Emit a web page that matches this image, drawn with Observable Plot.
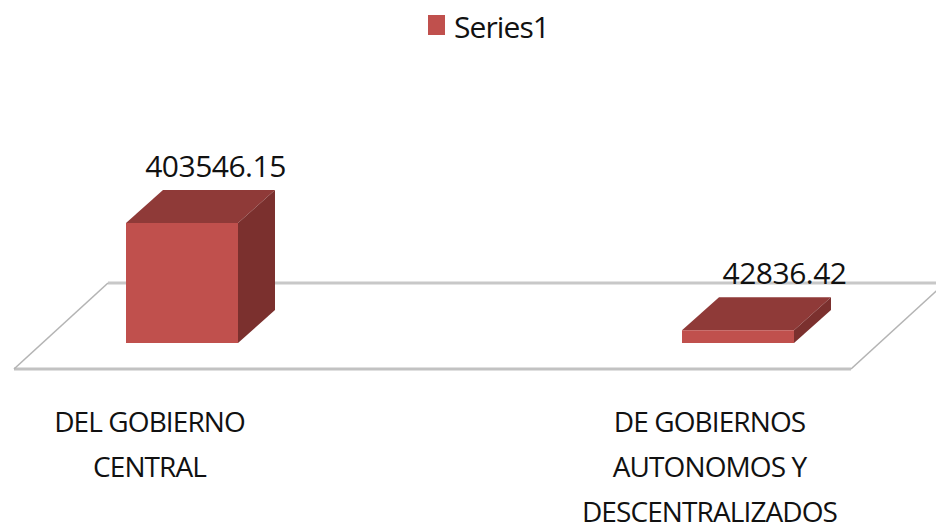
<!DOCTYPE html>
<html>
<head>
<meta charset="utf-8">
<script src="https://cdn.jsdelivr.net/npm/d3@7"></script>
<script src="https://cdn.jsdelivr.net/npm/@observablehq/plot@0.6"></script>
<style>
html,body{margin:0;padding:0;background:#fff;overflow:hidden}
#legend{height:50px;box-sizing:border-box;padding:15px 0 0 428px;display:flex;align-items:flex-start;font:30px "Open Sans",sans-serif;letter-spacing:-.9px;color:#111}
#legend i{display:block;width:17px;height:20px;background:#c0504d;margin-right:9px}
#legend span{line-height:24px}
svg{display:block}
.val{letter-spacing:-.5px}
.cat{letter-spacing:-.9px}
</style>
</head>
<body>
<div id="legend"><i></i><span id="series"></span></div>
<div id="chart"></div>
<script>
const seriesName = "Series1";
const categories = ["DEL GOBIERNO\nCENTRAL", "DE GOBIERNOS\nAUTONOMOS Y\nDESCENTRALIZADOS"];
const values = [403546.15, 42836.42];
const valueLabels = ["403546.15", "42836.42"];

document.getElementById("series").textContent = seriesName;
const rows = categories.map((category, i) => ({category, value: values[i], label: valueLabels[i]}));

const H = 476, OFF = 50;
const depth = {dx: 37, dy: -33};
const floor = {x0: 14, x1: 851, yFront: 369 - OFF, dx: 94, dy: -86};

function faces(color, which) {
  return (index, scales) => {
    const g = d3.create("svg:g");
    const bw = scales.x.bandwidth();
    for (const i of index) {
      const d = rows[i];
      const x0 = scales.x(d.category), x1 = x0 + bw;
      const yt = scales.y(d.value), yb = scales.y(0);
      const pts = which === "top"
        ? [[x0, yt], [x1, yt], [x1 + depth.dx, yt + depth.dy], [x0 + depth.dx, yt + depth.dy]]
        : [[x1, yt], [x1 + depth.dx, yt + depth.dy], [x1 + depth.dx, yb + depth.dy], [x1, yb]];
      g.append("polygon").attr("points", pts.join(" ")).attr("fill", color);
    }
    return g.node();
  };
}
function floorMark() {
  return () => {
    const g = d3.create("svg:g");
    const {x0, x1, yFront, dx, dy} = floor;
    const line = (a, b, c, e, w, col) => g.append("line")
      .attr("x1", a).attr("y1", b).attr("x2", c).attr("y2", e)
      .attr("stroke", col).attr("stroke-width", w);
    line(x0, yFront, x1, yFront, 3, "#c2c2c2");
    line(x0 + dx, yFront + dy, x1 + dx, yFront + dy, 3, "#c8c8c8");
    line(x0, yFront, x0 + dx, yFront + dy, 1.6, "#b4b4b4");
    line(x1, yFront, x1 + dx, yFront + dy, 1.6, "#b4b4b4");
    return g.node();
  };
}

const catText = {x: "category", y: () => 0, text: "category", dy: 57, lineAnchor: "top", lineHeight: 1.6, fontSize: 28, fill: "#111", textAnchor: "middle", className: "cat"};

const plot = Plot.plot({
  width: 936, height: H,
  margin: 0,
  style: {background: "transparent", fontFamily: '"Open Sans", sans-serif', overflow: "hidden"},
  x: {type: "band", domain: categories, range: [41, 878], paddingInner: 0.799, paddingOuter: 0.151, align: 0.5, axis: null},
  y: {domain: [0, 403546.15], range: [343 - OFF, 223 - OFF], axis: null},
  marks: [
    Plot.barY(rows.slice(0, 1), {x: "category", y: "value", render: floorMark()}),
    Plot.barY(rows, {x: "category", y: "value", render: faces("#8f3a38", "top")}),
    Plot.barY(rows, {x: "category", y: "value", render: faces("#7b302e", "side")}),
    Plot.barY(rows, {x: "category", y: "value", fill: "#c0504d"}),
    Plot.text(rows.slice(0, 1), {x: "category", y: "value", text: "label", dx: 33, dy: -56, fontSize: 30, fill: "#111", className: "val"}),
    Plot.text(rows.slice(1), {x: "category", y: "value", text: "label", dx: 46, dy: -56, fontSize: 30, fill: "#111", className: "val"}),
    Plot.text(rows.slice(0, 1), {...catText, dx: -33}),
    Plot.text(rows.slice(1), {...catText, dx: -29})
  ]
});
document.getElementById("chart").appendChild(plot);
</script>
</body>
</html>
